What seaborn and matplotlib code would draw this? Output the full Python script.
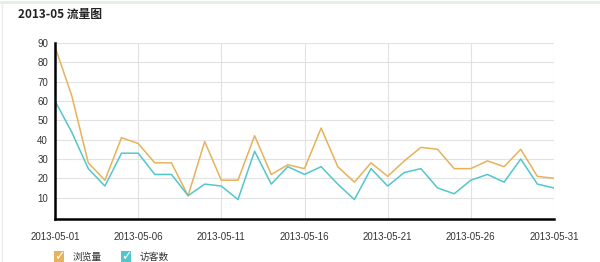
import numpy as np
import pandas as pd
import matplotlib
matplotlib.use("Agg")
import matplotlib.pyplot as plt
import seaborn as sns
from matplotlib.patches import Rectangle
from matplotlib.lines import Line2D

dates = pd.date_range("2013-05-01", "2013-05-31", freq="D")
pageviews = [88, 63, 28, 19, 41, 38, 28, 28, 11, 39, 19, 19, 42, 22, 27, 25,
             46, 26, 18, 28, 21, 29, 36, 35, 25, 25, 29, 26, 35, 21, 20]
visitors = [60, 44, 25, 16, 33, 33, 22, 22, 11, 17, 16, 9, 34, 17, 26, 22,
            26, 17, 9, 25, 16, 23, 25, 15, 12, 19, 22, 18, 30, 17, 15]
series_names = ["浏览量", "访客数"]
colors = ["#E6B25A", "#52C7CB"]
tick_labels = ["2013-05-01", "2013-05-06", "2013-05-11", "2013-05-16",
               "2013-05-21", "2013-05-26", "2013-05-31"]
title = "2013-05 流量图"

df = pd.DataFrame({
    "day": np.concatenate([np.arange(1, 32), np.arange(1, 32)]),
    "value": pageviews + visitors,
    "series": [series_names[0]] * 31 + [series_names[1]] * 31,
})

sns.set_style("white")
plt.rcParams["font.family"] = ["Noto Sans CJK SC", "DejaVu Sans"]

fig = plt.figure(figsize=(6.0, 2.62), dpi=100)
ax = fig.add_axes([55 / 600, 43.5 / 262, 499 / 600, 175.5 / 262])

sns.lineplot(data=df, x="day", y="value", hue="series", palette=colors,
             linewidth=1.1, legend=False, ax=ax)

ax.set_xlim(1, 31)
ax.set_yticks(range(10, 100, 10))
ax.set_xticks([1, 6, 11, 16, 21, 26, 31])
ax.set_xticklabels(tick_labels)
ax.tick_params(axis="both", labelsize=7, colors="#333333", length=3, width=1)
ax.tick_params(axis="y", pad=2)
ax.tick_params(axis="x", pad=7)
for lab in ax.get_xticklabels() + ax.get_yticklabels():
    lab.set_family(["Liberation Sans"])
ax.grid(True, color="#e2e2e2", linewidth=0.8)
ax.set_axisbelow(True)
ax.set_xlabel("")
ax.set_ylabel("")
for side in ["top", "right"]:
    ax.spines[side].set_visible(False)
for side in ["left", "bottom"]:
    ax.spines[side].set_color("black")
    ax.spines[side].set_linewidth(1.8)
ax.set_ylim(-0.8, 90)
ax.spines["bottom"].set_bounds(1, 31)
ax.spines["left"].set_bounds(-0.8, 90)
ax.axvline(31, color="#e2e2e2", linewidth=0.8, zorder=0)

# card border
fig.add_artist(Line2D([0, 1], [1 - 2 / 262, 1 - 2 / 262], color="#e3efe3", linewidth=2))
fig.add_artist(Line2D([2 / 600, 2 / 600], [0, 1 - 2 / 262], color="#ececec", linewidth=1))

fig.text(18 / 600, 1 - 14 / 262, title, fontsize=8.5, fontweight="bold",
         va="center", ha="left", color="#222222")

# legend with check boxes
for i, (name, c) in enumerate(zip(series_names, colors)):
    x0 = (54 + i * 67) / 600
    fig.add_artist(Rectangle((x0, 0 / 262), 10 / 600, 11 / 262, facecolor=c,
                             edgecolor="none", transform=fig.transFigure))
    fig.text(x0 + 5 / 600, 5.5 / 262, "✓", color="white", fontsize=9,
             ha="center", va="center", family=["DejaVu Sans"], fontweight="bold")
    fig.text(x0 + 19 / 600, 5 / 262, name, fontsize=7, color="#333333",
             ha="left", va="center")

fig.savefig("out.png", dpi=100, facecolor="white")
